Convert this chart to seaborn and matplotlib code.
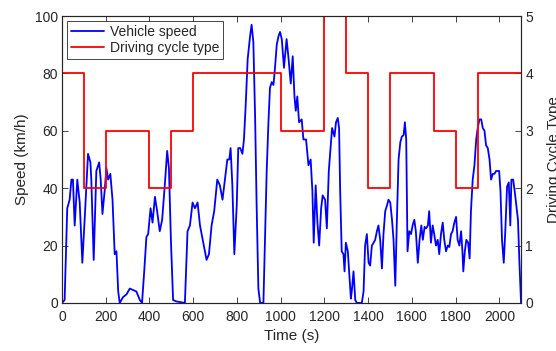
import numpy as np
import pandas as pd
import seaborn as sns
import matplotlib.pyplot as plt

# vehicle speed trace
time_s = [0, 12, 24, 35, 43, 50, 58, 70, 81, 93, 107, 119, 130, 134, 145, 157, 170, 177,
          185, 195, 203, 211, 221, 231, 241, 249, 257, 264, 279, 295, 310, 325, 340, 356,
          366, 376, 386, 394, 405, 414, 425, 435, 447, 458, 470, 481, 489, 498, 508, 524,
          562, 574, 585, 597, 608, 620, 631, 646, 661, 672, 684, 696, 710, 722, 734, 745,
          756, 765, 771, 779, 788, 799, 806, 815, 825, 832, 840, 849, 860, 867, 875, 883,
          890, 898, 906, 921, 928, 936, 944, 951, 959, 967, 974, 982, 990, 997,
          1005, 1015, 1027, 1035, 1046, 1055, 1063, 1069, 1076, 1084, 1096, 1104, 1116,
          1127, 1137, 1145, 1151, 1160, 1168, 1176, 1185, 1192, 1203, 1211, 1220, 1229,
          1235, 1246, 1253, 1261, 1267, 1272, 1279, 1287, 1292, 1298, 1307, 1313, 1321,
          1325, 1333, 1341, 1348, 1371, 1379, 1386, 1394, 1402, 1409, 1417, 1425, 1432,
          1440, 1447, 1455, 1463, 1470, 1478, 1486, 1493, 1501, 1509, 1516, 1524, 1531,
          1539, 1547, 1554, 1562, 1568, 1574, 1580, 1588, 1596, 1603, 1611, 1618, 1627,
          1635, 1643, 1650, 1658, 1665, 1673, 1679, 1687, 1695, 1702, 1710, 1718, 1725,
          1733, 1741, 1748, 1756, 1764, 1771, 1779, 1786, 1794, 1802, 1809, 1817, 1825,
          1831, 1835, 1842, 1849, 1857, 1864, 1870, 1878, 1886, 1894, 1901, 1909, 1917,
          1924, 1932, 1939, 1947, 1955, 1962, 1970, 1977, 1985, 1993, 1999, 2005, 2012,
          2020, 2027, 2035, 2043, 2050, 2055, 2063, 2070, 2078, 2085, 2091, 2099]
speed_kmh = [0, 1, 33, 36, 43, 43, 27, 43, 35, 14, 34, 52, 49, 43, 15, 46, 49, 43,
             31, 39, 47, 43, 45, 36, 17, 18, 4, 0, 2, 3, 5, 4.5, 4, 1,
             0, 11, 23, 24, 33, 28, 37, 32, 25, 29, 41, 53, 47, 22, 1, 0.5,
             0, 25, 27, 35, 33, 35, 27, 21, 15, 17, 27, 32, 43, 41, 36, 43,
             50, 50, 54, 41, 17, 34, 54, 54, 52, 57, 69, 85, 93, 97, 91, 65,
             34, 5, 0, 0, 22, 46, 63, 75, 77, 76, 82, 90, 93, 94.5,
             92, 82, 92, 86, 76.5, 86, 72, 67, 72, 63, 64, 57, 57,
             48, 50, 39, 21, 41, 28, 20, 33, 37.5, 36, 26, 46, 55,
             61, 58, 63, 64.5, 61, 39, 18, 17, 11, 21, 18, 11, 1.5,
             4, 11, 1, 0, 0, 4, 20, 24, 14, 13, 20, 21, 22,
             25, 27, 22, 12, 24, 32, 34, 36, 35, 29, 22, 6, 28,
             50, 56, 58, 58.5, 63, 57, 18, 25, 24, 27, 29, 25, 14,
             22, 27, 22, 26.5, 26, 27, 32, 21, 27, 24, 20, 22, 17,
             24, 28, 22, 18, 20, 19.5, 24, 25, 28, 30, 22, 20, 25,
             18, 11, 18, 22, 21, 15.5, 32, 43, 48, 57, 61, 64, 64,
             61, 60, 55, 54, 50, 43, 45, 45, 46, 46, 46, 39, 22,
             14, 25, 40.5, 42, 27, 43, 43, 39, 33.5, 29, 15.5, 0]

# driving cycle type, constant over each 100 s window
cycle_start = [0, 100, 200, 300, 400, 500, 600, 700, 800, 900, 1000, 1100, 1200, 1300,
               1400, 1500, 1600, 1700, 1800, 1900, 2000, 2100]
cycle_type = [4, 2, 3, 3, 2, 3, 4, 4, 4, 4, 3, 3, 5, 4, 2, 4, 4, 3, 2, 4, 4, 4]

speed_df = pd.DataFrame({"time": time_s, "speed": speed_kmh})
cycle_df = pd.DataFrame({"time": cycle_start, "type": cycle_type})

sns.set_style("ticks")
plt.rcParams["font.family"] = ["Liberation Sans", "DejaVu Sans"]
plt.rcParams["axes.edgecolor"] = "#262626"
plt.rcParams["axes.linewidth"] = 0.8

fig = plt.figure(figsize=(5.56, 3.51), dpi=100)
ax = fig.add_axes([0.1115, 0.137, 0.826, 0.817])
ax2 = ax.twinx()

sns.lineplot(data=speed_df, x="time", y="speed", ax=ax, color="#0000ff",
             linewidth=1.3, label="Vehicle speed", legend=False)
sns.lineplot(data=cycle_df, x="time", y="type", ax=ax2, color="#ff0000",
             linewidth=1.3, drawstyle="steps-post", label="Driving cycle type",
             legend=False)

ax.set_xlim(0, 2100)
ax.set_ylim(0, 100)
ax2.set_ylim(0, 5)
ax.set_xticks(np.arange(0, 2001, 200))
ax.set_yticks(np.arange(0, 101, 20))
ax2.set_yticks(range(6))

ax.set_xlabel("Time (s)", fontsize=11, color="#262626", labelpad=4)
ax.set_ylabel("Speed (km/h)", fontsize=11, color="#262626", labelpad=4)
ax2.set_ylabel("Driving Cycle Type", fontsize=11, color="#262626", labelpad=10)

ax.tick_params(direction="in", length=4, width=0.6, labelsize=10,
               labelcolor="#262626", top=True, right=False, pad=3)
ax.tick_params(axis="x", pad=5)
ax2.tick_params(direction="in", length=4, width=0.6, labelsize=10,
                labelcolor="#262626", pad=3)

h1, l1 = ax.get_legend_handles_labels()
h2, l2 = ax2.get_legend_handles_labels()
leg = ax2.legend(h1 + h2, l1 + l2, loc="upper left", fontsize=10, frameon=True,
                 fancybox=False, edgecolor="#262626", framealpha=1,
                 handlelength=2.4, borderaxespad=0.35, borderpad=0.3,
                 labelspacing=0.15, handletextpad=0.4)
leg.get_frame().set_linewidth(0.6)

fig.savefig("out.png", dpi=100)
